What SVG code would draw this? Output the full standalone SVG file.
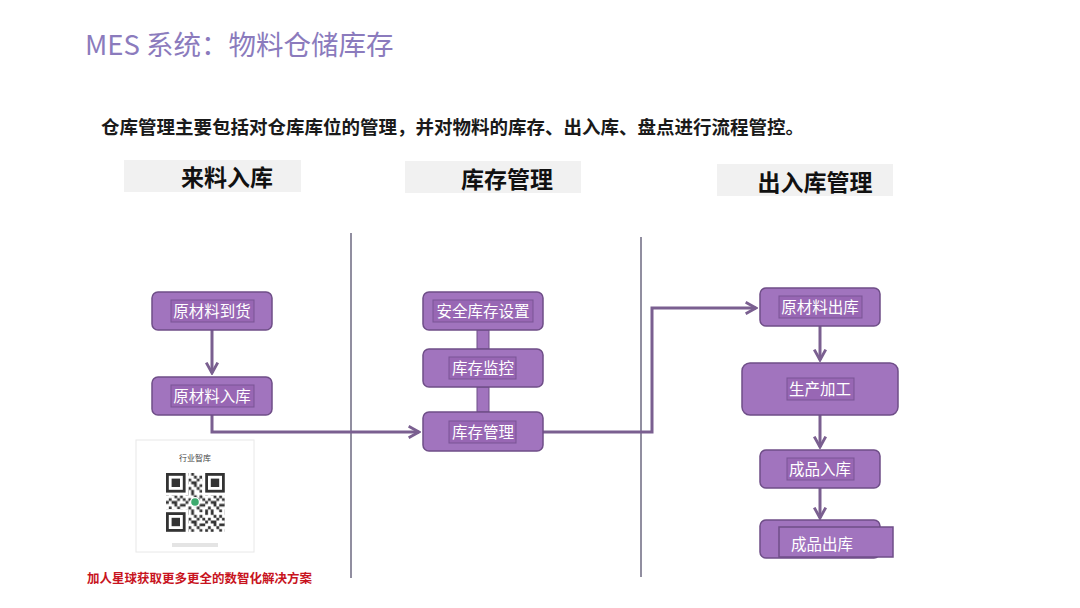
<svg xmlns="http://www.w3.org/2000/svg" width="1080" height="608" viewBox="0 0 1080 608">
<defs>
<style>
.cjk{font-family:"Noto Sans CJK SC","Noto Sans",sans-serif}
.hdr{fill:#f1f1f1}
.hdrt{font-size:23px;font-weight:bold;fill:#111;text-anchor:middle}
.box{fill:#a174be;stroke:#6f4e88;stroke-width:1.5}
.lbl{fill:#9867b4;stroke:#7a5595;stroke-width:1}
.nt{font-size:15.5px;fill:#fff;text-anchor:middle}
.sep{stroke:#6c6880;stroke-width:1.5;fill:none}
.con{stroke:#7a5f90;stroke-width:3;fill:none}
</style>
<marker id="arr" viewBox="0 0 12 12" refX="10" refY="6" markerWidth="4.6" markerHeight="4.6" orient="auto" markerUnits="strokeWidth">
<path d="M1,1 L10,6 L1,11" fill="none" stroke="#7a5f90" stroke-width="2.5"/>
</marker>
<pattern id="qrp" x="166" y="473" width="19.6" height="19.6" patternUnits="userSpaceOnUse">
<path fill="#333" d="M0,0h2.8v2.8h-2.8z M5.6,0h2.8v2.8h-2.8z M8.4,2.8h2.8v2.8h-2.8z M14,2.8h2.8v2.8h-2.8z M2.8,5.6h2.8v2.8h-2.8z M11.2,5.6h2.8v2.8h-2.8z M16.8,5.6h2.8v2.8h-2.8z M0,8.4h2.8v2.8h-2.8z M5.6,8.4h5.6v2.8h-5.6z M8.4,11.2h2.8v2.8h-2.8z M14,11.2h5.6v2.8h-5.6z M2.8,14h2.8v2.8h-2.8z M11.2,14h2.8v2.8h-2.8z M0,16.8h2.8v2.8h-2.8z M5.6,16.8h2.8v2.8h-2.8z M14,16.8h2.8v2.8h-2.8z"/>
</pattern>
</defs>
<rect width="1080" height="608" fill="#fff"/>

<text class="cjk" x="85" y="55" font-size="27.5" fill="#8b7bbd">MES 系统：物料仓储库存</text>
<text class="cjk" x="101" y="134" font-size="18.5" font-weight="bold" fill="#1a1a1a">仓库管理主要包括对仓库库位的管理，并对物料的库存、出入库、盘点进行流程管控。</text>

<g id="header1"><rect class="hdr" x="124" y="160" width="177" height="32"/><text class="cjk hdrt" x="227" y="186">来料入库</text></g>
<g id="header2"><rect class="hdr" x="405" y="161" width="176" height="32"/><text class="cjk hdrt" x="507" y="188">库存管理</text></g>
<g id="header3"><rect class="hdr" x="717" y="164" width="176" height="32"/><text class="cjk hdrt" x="815" y="191">出入库管理</text></g>

<g id="separators">
<line class="sep" x1="351" y1="233" x2="351" y2="578"/>
<line class="sep" x1="641" y1="237" x2="641" y2="577"/>
</g>

<g id="connectors">
<line class="con" x1="212" y1="330" x2="212" y2="373" marker-end="url(#arr)"/>
<polyline class="con" points="212,415 212,432 419,432" marker-end="url(#arr)"/>
<rect x="477" y="330" width="12" height="19" fill="#a174be" stroke="#6f4e88" stroke-width="1"/>
<rect x="477" y="387" width="12" height="25" fill="#a174be" stroke="#6f4e88" stroke-width="1"/>
<polyline class="con" points="543,432 652,432 652,308 756,308" marker-end="url(#arr)"/>
<line class="con" x1="820" y1="326" x2="820" y2="360" marker-end="url(#arr)"/>
<line class="con" x1="820" y1="415" x2="820" y2="447" marker-end="url(#arr)"/>
<line class="con" x1="820" y1="488" x2="820" y2="518" marker-end="url(#arr)"/>
</g>

<g id="n1"><rect class="box" x="152" y="292" width="120" height="38" rx="6"/><rect class="lbl" x="171" y="300" width="83" height="22"/><text class="cjk nt" x="212" y="317">原材料到货</text></g>
<g id="n2"><rect class="box" x="152" y="377" width="120" height="38" rx="6"/><rect class="lbl" x="171" y="385" width="83" height="22"/><text class="cjk nt" x="212" y="402">原材料入库</text></g>

<g id="n3"><rect class="box" x="423" y="292" width="120" height="38" rx="6"/><rect class="lbl" x="433" y="300" width="100" height="22"/><text class="cjk nt" x="483" y="317">安全库存设置</text></g>
<g id="n4"><rect class="box" x="423" y="349" width="120" height="38" rx="6"/><rect class="lbl" x="449" y="357" width="67" height="22"/><text class="cjk nt" x="483" y="374">库存监控</text></g>
<g id="n5"><rect class="box" x="423" y="412" width="120" height="39" rx="6"/><rect class="lbl" x="449" y="421" width="67" height="22"/><text class="cjk nt" x="483" y="438">库存管理</text></g>

<g id="n6"><rect class="box" x="760" y="288" width="120" height="38" rx="6"/><rect class="lbl" x="779" y="296" width="83" height="22"/><text class="cjk nt" x="820" y="313">原材料出库</text></g>
<g id="n7"><rect class="box" x="742" y="363" width="156" height="52" rx="8"/><rect class="lbl" x="787" y="378" width="67" height="22"/><text class="cjk nt" x="820" y="395">生产加工</text></g>
<g id="n8"><rect class="box" x="760" y="450" width="120" height="38" rx="6"/><rect class="lbl" x="787" y="458" width="67" height="22"/><text class="cjk nt" x="820" y="475">成品入库</text></g>
<g id="n9"><rect class="box" x="760" y="520" width="120" height="38" rx="6"/><rect class="box" x="779" y="527" width="114" height="30" stroke-width="1"/><text class="cjk nt" x="822" y="550">成品出库</text></g>

<g id="qrcard">
<rect x="136" y="440" width="118" height="112" fill="#fff" stroke="#e8e8e8" stroke-width="1"/>
<text class="cjk" x="195" y="461" font-size="8" fill="#444" text-anchor="middle">行业智库</text>
<rect x="166" y="473" width="58.8" height="58.8" fill="url(#qrp)"/>
<g fill="#fff">
<rect x="165" y="472" width="23.4" height="23.4"/><rect x="202.2" y="472" width="23.6" height="23.4"/><rect x="165" y="509.2" width="23.4" height="23.6"/>
</g>
<g fill="none" stroke="#333" stroke-width="2.8">
<rect x="167.4" y="474.4" width="16.8" height="16.8"/><rect x="206.6" y="474.4" width="16.8" height="16.8"/><rect x="167.4" y="513.6" width="16.8" height="16.8"/>
</g>
<g fill="#333">
<rect x="171.6" y="478.6" width="8.4" height="8.4"/><rect x="210.8" y="478.6" width="8.4" height="8.4"/><rect x="171.6" y="517.8" width="8.4" height="8.4"/>
</g>
<circle cx="195" cy="502" r="5" fill="#fff"/>
<circle cx="195" cy="502" r="3.8" fill="#3daa6e"/>
<rect x="172" y="543" width="46" height="4" fill="#e4e4e4"/>
</g>

<text class="cjk" x="87" y="583" font-size="12.5" font-weight="bold" fill="#c8141e">加人星球获取更多更全的数智化解决方案</text>
</svg>
